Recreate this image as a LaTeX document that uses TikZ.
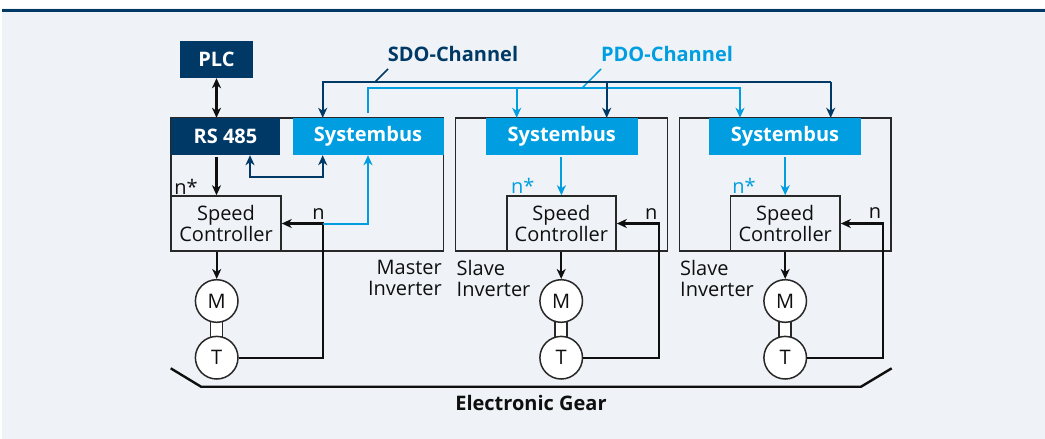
\documentclass[tikz,border=0pt]{standalone}
\usepackage{fontspec}
\setmainfont{Open Sans}
\usetikzlibrary{arrows.meta,calc}
\definecolor{bg}{RGB}{239,243,247}
\definecolor{dblue}{RGB}{0,57,102}
\definecolor{lblue}{RGB}{0,158,224}
\definecolor{frame}{RGB}{40,40,40}
\definecolor{ink}{RGB}{15,15,15}
\begin{document}
\begin{tikzpicture}[x=1pt,y=-1pt,
  tip/.style={-{Stealth[length=10pt,width=9pt,inset=3pt]}},
  tiptwo/.style={{Stealth[length=10pt,width=9pt,inset=3pt]}-{Stealth[length=10pt,width=9pt,inset=3pt]}},
  blk/.style={draw=ink,line width=2.2pt},
  dbl/.style={draw=dblue,line width=2pt},
  lbl/.style={draw=lblue,line width=2pt},
  txt/.style={font=\fontsize{20}{21}\selectfont,inner sep=0pt,text=ink},
  boldtxt/.style={font=\fontsize{20}{21}\selectfont\bfseries,inner sep=0pt},
  darkbox/.style={fill=dblue,text=white,font=\fontsize{20}{21}\selectfont\bfseries,inner sep=0pt},
  busbox/.style={fill=lblue,text=white,font=\fontsize{20}{21}\selectfont\bfseries,inner sep=0pt,minimum height=37pt},
  outer/.style={draw=frame,line width=1.5pt,inner sep=0pt,minimum height=133pt},
  speedbox/.style={draw=frame,line width=1.5pt,inner sep=0pt,minimum width=110pt,minimum height=55pt,align=center,font=\fontsize{20}{18.5}\selectfont,text=ink},
  circ/.style={circle,draw=frame,line width=1.5pt,fill=white,minimum size=42.6pt,inner sep=0pt,font=\fontsize{20}{21}\selectfont,text=ink},
  shaft/.style={draw=frame,line width=1.5pt,fill=white}
]
\useasboundingbox (0,0) rectangle (1045,439);
\fill[white] (0,0) rectangle (1045,439);
\fill[bg] (2,8) rectangle (1045,439);
\fill[dblue] (2,9) rectangle (1045,12);

% inverter frames
\node[outer,minimum width=272.5pt] (mi) at (307.25,184.5) {};
\node[outer,minimum width=211.6pt] (si1) at (561.5,184.5) {};
\node[outer,minimum width=211.6pt] (si2) at (785.2,184.5) {};

% top boxes
\node[darkbox,minimum width=73pt,minimum height=37pt] (plc) at (216.5,59.5) {PLC};
\node[darkbox,minimum width=109pt,minimum height=37pt] (rs) at (225.5,136.5) {RS 485};
\node[busbox,minimum width=151pt] (sbm) at (368,136.5) {Systembus};
\node[busbox,minimum width=151.5pt] (sb1) at (561.8,136.5) {Systembus};
\node[busbox,minimum width=152pt] (sb2) at (785,136.5) {Systembus};

% speed controllers
\node[speedbox] (spm) at (226,223.5) {Speed\\Controller};
\node[speedbox,minimum width=109.3pt] (sp1) at (561.4,223.5) {Speed\\Controller};
\node[speedbox,minimum width=109.7pt] (sp2) at (785.2,223.5) {Speed\\Controller};

% motors and tachos
\coordinate (mc0) at (216.7,301);
\coordinate (tc0) at (216.7,357.7);
\coordinate (mc1) at (561.2,301);
\coordinate (tc1) at (561.2,357.7);
\coordinate (mc2) at (785.2,301);
\coordinate (tc2) at (785.2,357.7);
\foreach \i in {0,1,2}{
  \draw[shaft] ($(mc\i)+(-6,0)$) rectangle ($(tc\i)+(6,0)$);
}
\node[circ] (m0) at (mc0) {M};
\node[circ] (t0) at (tc0) {T};
\node[circ] (m1) at (mc1) {M};
\node[circ] (t1) at (tc1) {T};
\node[circ] (m2) at (mc2) {M};
\node[circ] (t2) at (tc2) {T};

% channel labels
\node[boldtxt,text=dblue] (sdo) at (453,53.7) {SDO-Channel};
\node[boldtxt,text=lblue] (pdo) at (667,53.7) {PDO-Channel};

% PDO channel
\coordinate (pdoL) at (368,87.5);
\coordinate (pdoR) at (740,87.5);
\coordinate (pdoB) at (516.7,87.5);
\draw[lbl,tip,shorten <=5pt] (sbm.north) -- (pdoL) -- (pdoR) -- (pdoR |- sb2.north);
\draw[lbl,tip] (pdoB) -- (pdoB |- sb1.north);
\coordinate (pdoK) at (582.7,87.5);
\draw[draw=lblue,line width=1.5pt] (pdoK) -- (601,69);

% SDO channel
\coordinate (sdoL) at (322.7,82);
\coordinate (sdoR) at (830.7,82);
\coordinate (sdoB) at (606.7,82);
\draw[dbl,tip] (sdoR) -- (sdoL) -- (sdoL |- sbm.north);
\draw[dbl,tip] (sdoR) -- (sdoR |- sb2.north);
\draw[dbl,tip] (sdoB) -- (sdoB |- sb1.north);
\coordinate (sdoK) at (375,82);
\draw[draw=dblue,line width=1.5pt] (sdoK) -- (388,69);

% PLC <-> RS485
\draw[blk,tiptwo] (plc.south) -- (plc.south |- rs.north);
% RS485 <-> Systembus
\coordinate (rsb) at (250,176.7);
\draw[dbl,tiptwo] (rsb |- rs.south) -- (rsb) -- (sdoL |- rsb) -- (sdoL |- sbm.south);
% RS485 -> speed controller
\draw[blk,tip,shorten <=2pt] (plc.south |- rs.south) -- (plc.south |- spm.north);
\node[txt] (nsm) at (186,187) {n*};

% slave systembus -> speed controller
\draw[lbl,tip,shorten <=2pt] (sb1.south -| sp1.north) -- (sp1.north);
\draw[lbl,tip,shorten <=2pt] (sb2.south -| sp2.north) -- (sp2.north);
\node[txt,text=lblue] (ns1) at (522.7,186) {n*};
\node[txt,text=lblue] (ns2) at (744,186) {n*};

% speed controller -> motor
\draw[blk,tip] (m0.north |- spm.south) -- (m0.north);
\draw[blk,tip] (sp1.south -| m1.north) -- (m1.north);
\draw[blk,tip] (sp2.south -| m2.north) -- (m2.north);

% tacho feedback
\coordinate (fb0) at (322.7,357.7);
\coordinate (fb1) at (659.2,357.7);
\coordinate (fb2) at (882.7,357.7);
\draw[blk,tip] (t0.east) -- (fb0) -- (fb0 |- spm.east) -- (spm.east);
\draw[blk,tip] (t1.east) -- (fb1) -- (fb1 |- sp1.east) -- (sp1.east);
\draw[blk,tip] (t2.east) -- (fb2) -- (fb2 |- sp2.east) -- (sp2.east);
\draw[lbl,tip] (fb0 |- spm.east) -- (sbm.south |- spm.east) -- (sbm.south);
\node[txt] (n0) at (318.5,214) {n};
\node[txt] (n1) at (651.3,214) {n};
\node[txt] (n2) at (875,213.5) {n};

% inverter labels
\node[txt,align=right,anchor=east] (lm) at (442,278) {Master\\Inverter};
\node[txt,align=left,anchor=west] (ls1) at (456.5,278) {Slave\\Inverter};
\node[txt,align=left,anchor=west] (ls2) at (680,278) {Slave\\Inverter};

% electronic gear
\draw[draw=ink,line width=2.4pt] (170.7,368.3) -- (201,386.7) -- (861,386.7) -- (891.7,368.3);
\node[boldtxt,text=ink] (eg) at (531,403.3) {Electronic Gear};
\end{tikzpicture}
\end{document}
